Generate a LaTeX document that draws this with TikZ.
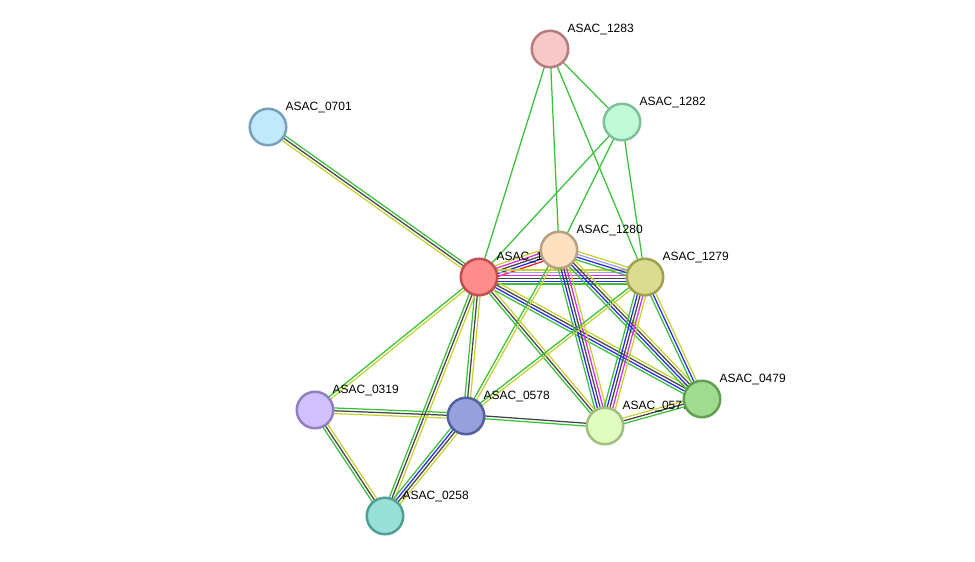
\documentclass[tikz,border=0pt]{standalone}
\usepackage{fontspec}
\newfontfamily\labelfont{Liberation Sans}
\usetikzlibrary{calc}
\pgfdeclarelayer{edges}
\pgfdeclarelayer{labels}
\pgfsetlayers{edges,labels,main}

% evidence channel colours
\definecolor{evG}{HTML}{38C238}
\definecolor{evK}{HTML}{444444}
\definecolor{evB}{HTML}{2828FA}
\definecolor{evM}{HTML}{E128E1}
\definecolor{evR}{HTML}{FA1E1E}
\definecolor{evL}{HTML}{A0A0FA}
\definecolor{evY}{HTML}{C4D232}

% protein fill / border colours
\definecolor{f1283}{HTML}{F8C8C8}\definecolor{b1283}{HTML}{B47D7D}
\definecolor{f1282}{HTML}{C0FAD8}\definecolor{b1282}{HTML}{7DC09A}
\definecolor{f0701}{HTML}{C2E8FC}\definecolor{b0701}{HTML}{78A0B8}
\definecolor{f1281}{HTML}{FF8C8C}\definecolor{b1281}{HTML}{C05050}
\definecolor{f1280}{HTML}{FDE0C0}\definecolor{b1280}{HTML}{B8A080}
\definecolor{f1279}{HTML}{DCDC90}\definecolor{b1279}{HTML}{A0A050}
\definecolor{f0479}{HTML}{A0DC90}\definecolor{b0479}{HTML}{60A050}
\definecolor{f0577}{HTML}{E0FCC0}\definecolor{b0577}{HTML}{A0C080}
\definecolor{f0578}{HTML}{98A0DC}\definecolor{b0578}{HTML}{5060A0}
\definecolor{f0319}{HTML}{D0C0FC}\definecolor{b0319}{HTML}{9080C0}
\definecolor{f0258}{HTML}{98E0D8}\definecolor{b0258}{HTML}{50A098}

\tikzset{
  prot/.style={circle, minimum size=36.5pt, inner sep=0pt, line width=2.5pt},
  plabel/.style={anchor=base west, inner sep=0pt, font=\labelfont\fontsize{12}{14}\selectfont},
  evline/.style={line width=1.25pt}
}

% #1,#2: node names; #3: number of channels; #4: list of channel colours
\newcommand\bundle[4]{%
  \foreach \c [count=\i] in {#4}{%
    \pgfmathsetmacro\off{(\i-(#3+1)/2)*2.8}%
    \draw[evline, draw=\c] ($(#1)!\off pt!90:(#2)$) -- ($(#2)!\off pt!-90:(#1)$);
  }%
}
% protein node (#1 = id, used for its name and colours) with its label
\newcommand\protein[4]{% id, x, y, text
  \node[prot, fill=f#1, draw=b#1] (p#1) at (#2,#3) {};
  \begin{pgfonlayer}{labels}
    \node[plabel] (p#1-l) at (#2+17.5,#3-17) {#4};
  \end{pgfonlayer}
}

\begin{document}
\begin{tikzpicture}[x=1pt,y=-1pt]
\useasboundingbox (0,0) rectangle (975,562);

\protein{1283}{550}{49}{ASAC\_1283}
\protein{1282}{622}{122}{ASAC\_1282}
\protein{0701}{268}{127}{ASAC\_0701}
\protein{1281}{479}{277}{ASAC\_1281}
\protein{1280}{559}{250}{ASAC\_1280}
\protein{1279}{645}{277}{ASAC\_1279}
\protein{0479}{702}{399}{ASAC\_0479}
\protein{0577}{605}{426}{ASAC\_0577}
\protein{0578}{466}{416}{ASAC\_0578}
\protein{0319}{315}{410}{ASAC\_0319}
\protein{0258}{385}{516}{ASAC\_0258}

\begin{pgfonlayer}{edges}
\bundle{p1281}{p0701}{3}{evG,evK,evY}
\bundle{p1281}{p1283}{1}{evG}
\bundle{p1281}{p1282}{1}{evG}
\bundle{p1281}{p1280}{5}{evR,evB,evK,evM,evY}
\bundle{p1281}{p1279}{6}{evG,evB,evK,evM,evL,evY}
\bundle{p1281}{p0479}{4}{evG,evB,evK,evY}
\bundle{p1281}{p0577}{3}{evG,evK,evY}
\bundle{p1281}{p0578}{3}{evG,evK,evY}
\bundle{p1281}{p0258}{3}{evG,evK,evY}
\bundle{p1281}{p0319}{2}{evG,evY}
\bundle{p1280}{p1283}{1}{evG}
\bundle{p1280}{p1282}{1}{evG}
\bundle{p1280}{p1279}{4}{evG,evB,evL,evY}
\bundle{p1280}{p0577}{5}{evG,evB,evK,evM,evY}
\bundle{p1280}{p0479}{4}{evG,evB,evK,evY}
\bundle{p1280}{p0578}{2}{evG,evY}
\bundle{p1279}{p1283}{1}{evG}
\bundle{p1279}{p1282}{1}{evG}
\bundle{p1279}{p0577}{5}{evG,evB,evK,evM,evY}
\bundle{p1279}{p0479}{3}{evG,evB,evY}
\bundle{p1279}{p0578}{2}{evG,evY}
\bundle{p1282}{p1283}{1}{evG}
\bundle{p0578}{p0319}{3}{evG,evK,evY}
\bundle{p0578}{p0258}{4}{evG,evB,evK,evY}
\bundle{p0578}{p0577}{2}{evG,evK}
\bundle{p0319}{p0258}{3}{evG,evK,evY}
\bundle{p0577}{p0479}{3}{evG,evK,evY}
\end{pgfonlayer}
\end{tikzpicture}
\end{document}
